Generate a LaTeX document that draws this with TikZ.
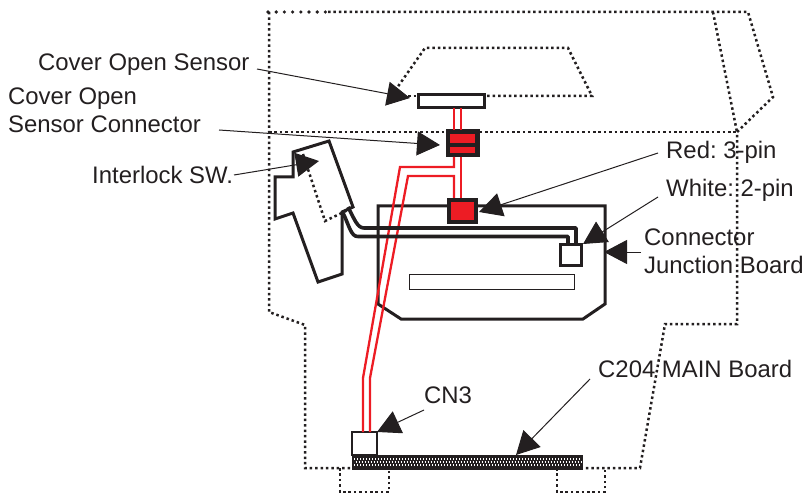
\documentclass[tikz,border=0pt]{standalone}
\usepackage{fontspec}
\setmainfont{Liberation Sans}
\frenchspacing
\usetikzlibrary{arrows.meta}
\definecolor{ink}{HTML}{231F20}
\definecolor{wire}{HTML}{ED1C24}
\tikzset{
  lbl/.style={anchor=base west,inner sep=0pt,text=ink,font=\fontsize{23.9}{28}\selectfont\frenchspacing,align=left},
  fine/.style={draw=ink,line width=2.5pt,dash pattern=on 2.5pt off 2.9pt},
  heavy/.style={draw=ink,line width=3.6pt,line cap=round,dash pattern=on 0pt off 8.2pt},
  solidline/.style={draw=ink,line width=3pt,line join=miter},
  redbox/.style={draw=ink,line width=4pt,fill=wire,inner sep=0pt},
  whitebox/.style={draw=ink,fill=white,inner sep=0pt},
  wireline/.style={draw=wire,line width=2.3pt,line join=miter},
  cable/.style={draw=ink,line width=3.6pt,line join=round},
  leader/.style={draw=ink,line width=1pt,-{Triangle[length=23pt,width=24pt,color=ink]}},
  dotrow/.style={draw=white,line width=1.3pt,dash pattern=on 1.3pt off 1.7pt}
}
\begin{document}
\begin{tikzpicture}[x=1pt,y=-1pt]
\useasboundingbox (0,0) rectangle (805,494);
% housing (dotted)
\path[heavy] (268,12) -- (328,12);
\path[fine] (328,12) -- (748,12) -- (773,97) -- (737,132) -- (737,324) -- (665,324) -- (640,468) -- (583,468);
\path[fine] (713,12) -- (737,132);
\path[fine] (269,12) -- (269,312) -- (305,325) -- (305,468) -- (352,468);
\path[fine] (269,132) -- (737,132);
\path[fine] (340,468) -- (340,492) -- (389,492) -- (389,468);
\path[fine] (557,468) -- (557,492) -- (605,492) -- (605,468);
\path[fine] (392,95) -- (425,48) -- (568,48) -- (592,96) -- (486,96);
\path[fine] (392,96) -- (417,96);
% junction board
\path[solidline] (378,206) -- (605,206) -- (605,304) -- (583,319) -- (401,319) -- (378,304) -- cycle;
\node[whitebox,line width=1pt,minimum width=165pt,minimum height=15pt] (slot) at (491.5,281.5) {};
% interlock switch
\path[solidline] (293,152) -- (329,141) -- (353,207) -- (342,212) -- (342,274) -- (318,282) -- (293,213) -- (275,219) -- (275,177) -- (293,177) -- cycle;
\path[fine] (303,154) -- (325,221) -- (348,210);
% sensor and connectors
\node[whitebox,line width=3pt,minimum width=66pt,minimum height=13pt] (sensor) at (451.5,100.7) {};
\node[draw=ink,fill=ink,line width=0pt,inner sep=0pt,minimum width=33pt,minimum height=27pt] (conup) at (462.5,143.5) {};
\node[fill=wire,inner sep=0pt,minimum width=25pt,minimum height=9pt] (conupa) at (462.5,138.5) {};
\node[fill=wire,inner sep=0pt,minimum width=25pt,minimum height=6pt] (conupb) at (462.5,150) {};
\node[redbox,minimum width=27pt,minimum height=22pt] (conlow) at (462.5,211) {};
\node[whitebox,line width=3pt,minimum width=21pt,minimum height=21pt] (white2) at (571,255) {};
% main board and CN3
\node[whitebox,line width=1.6pt,minimum width=25pt,minimum height=23pt] (cn3) at (364.5,443.5) {};
\node[fill=ink,inner sep=0pt,minimum width=231pt,minimum height=15pt] (mainb) at (467.5,462.5) {};
\path[dotrow] (354,459) -- (581,459);
\path[dotrow,dash phase=1.5pt] (354,462) -- (581,462);
\path[dotrow] (354,465) -- (581,465);
% red wires
\path[wireline] (454,108) -- (454,130);
\path[wireline] (461,108) -- (461,130);
\path[wireline] (461,157) -- (461,198);
\path[wireline] (454,157) -- (454,167) -- (400,167) -- (363,378) -- (363,432);
\path[wireline] (454,198) -- (454,176) -- (408,176) -- (370,378) -- (370,432);
% black cable
\path[cable] (348,207) .. controls (354,218) and (357,228) .. (364,228) -- (576,228) -- (576,243);
\path[cable] (343,213) .. controls (349,225) and (351,237) .. (358,236.5) -- (568,236.5) -- (568,243);
% labels
\node[lbl] (lsensor) at (38,71) {Cover Open Sensor};
\node[lbl] (lconn) at (8,133) {Cover Open\\Sensor Connector};
\node[lbl] (lint) at (92,184) {Interlock SW.};
\node[lbl] (lred) at (666,159) {Red: 3-pin};
\node[lbl] (lwhite) at (666,197) {White: 2-pin};
\node[lbl] (ljunc) at (644,273) {Connector\\Junction Board};
\node[lbl] (lmain) at (598,377) {C204 MAIN Board};
\node[lbl] (lcn3) at (424,403) {CN3};
% leader ends
\coordinate (a1) at (257,69);   \coordinate (t1) at (410,98);
\coordinate (a2) at (219,130);  \coordinate (t2) at (440,145);
\coordinate (a3) at (234,175);  \coordinate (t3) at (319,161);
\coordinate (a4) at (658,153);  \coordinate (t4) at (479,212);
\coordinate (a5) at (658,197);  \coordinate (t5) at (583,244);
\coordinate (a6) at (641,252);  \coordinate (t6) at (604,252);
\coordinate (a7) at (424,410);  \coordinate (t7) at (377,432);
\coordinate (a8) at (590,379);  \coordinate (t8) at (516,455);
\draw[leader] (a1) -- (t1);
\draw[leader] (a2) -- (t2);
\draw[leader] (a3) -- (t3);
\draw[leader] (a4) -- (t4);
\draw[leader] (a5) -- (t5);
\draw[leader] (a6) -- (t6);
\draw[leader] (a7) -- (t7);
\draw[leader] (a8) -- (t8);
\end{tikzpicture}
\end{document}
